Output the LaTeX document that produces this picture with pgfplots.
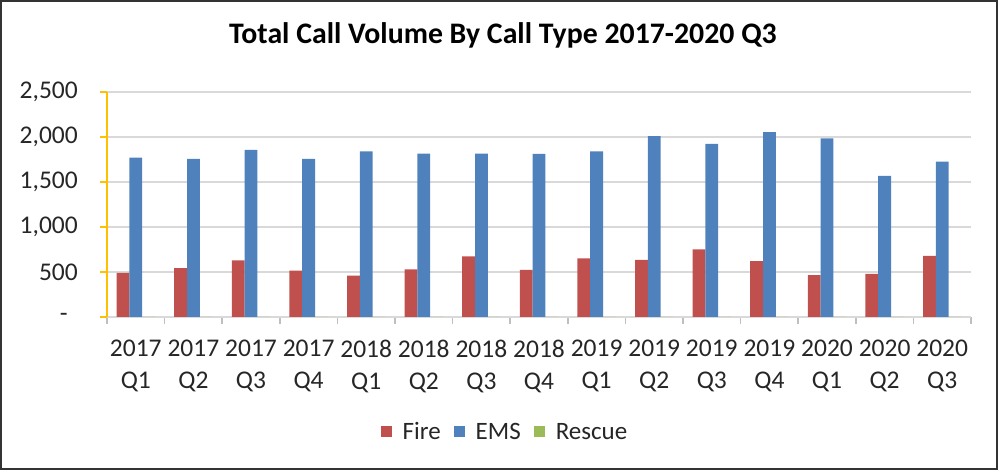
\documentclass[border=0pt]{standalone}
\usepackage{fontspec}
\setmainfont{Carlito}
\usepackage{pgfplots}
\pgfplotsset{compat=1.18}
\definecolor{fireC}{HTML}{C0504D}
\definecolor{emsC}{HTML}{4F81BD}
\definecolor{resC}{HTML}{9BBB59}
\definecolor{gridC}{HTML}{D9D9D9}
\definecolor{yaxC}{HTML}{FFC000}
\begin{document}
\begin{tikzpicture}
\useasboundingbox (0pt,0pt) rectangle (998pt,470pt);
\draw[line width=1.2pt, black!80] (1pt,1pt) rectangle (997pt,469pt);
\begin{axis}[
  at={(107pt,153pt)}, anchor=south west,
  scale only axis, width=864pt, height=225pt,
  ybar=0pt, bar width=12.8pt,
  xmin=-0.5, xmax=14.5, ymin=0, ymax=2500,
  axis x line*=bottom, axis y line*=left,
  x axis line style={-, draw=gridC, line width=1.8pt},
  y axis line style={-, draw=yaxC, line width=1.8pt},
  tick align=outside,
  xtick={0,...,14},
  xticklabels={2017\\Q1,2017\\Q2,2017\\Q3,2017\\Q4,2018\\Q1,2018\\Q2,2018\\Q3,2018\\Q4,2019\\Q1,2019\\Q2,2019\\Q3,2019\\Q4,2020\\Q1,2020\\Q2,2020\\Q3},
  major x tick style={draw=none},
  minor xtick={-0.5,0.5,...,14.5},
  minor tick length=7pt,
  minor x tick style={draw=black!25, line width=1.5pt},
  ytick={0,500,1000,1500,2000,2500},
  yticklabels={-\hspace*{10pt},500,{1,000},{1,500},{2,000},{2,500}},
  major tick length=7pt,
  y tick style={draw=yaxC, line width=1.5pt},
  ymajorgrids, major y grid style={draw=gridC, line width=1.5pt},
  tick label style={font=\fontsize{25.5}{32}\selectfont, text=black!85},
  xticklabel style={align=center, anchor=north, inner sep=0pt, yshift=-16pt},
  yticklabel style={anchor=east, inner sep=0pt, xshift=-22pt},
  title={Total Call Volume By Call Type 2017-2020 Q3},
  title style={at={(0.4583,1.1867)}, anchor=base, inner sep=0pt,
    font=\fontsize{29.8}{32}\selectfont\bfseries},
  legend style={at={(0.4606,-0.511)}, anchor=center, draw=none,
    font=\fontsize{25}{28}\selectfont, text=black!85,
    /tikz/every odd column/.append style={column sep=9pt},
    /tikz/every even column/.append style={column sep=11pt}},
  legend columns=-1,
  legend image code/.code={\fill[#1] (0pt,-5.5pt) rectangle (11pt,5.5pt);},
]
\addplot[fill=fireC, draw=none] coordinates {
(0,489) (1,544) (2,630) (3,515) (4,459) (5,530) (6,674) (7,524)
(8,650) (9,635) (10,750) (11,620) (12,464) (13,479) (14,680)};
\addplot[fill=emsC, draw=none] coordinates {
(0,1770) (1,1756) (2,1856) (3,1756) (4,1841) (5,1815) (6,1815) (7,1813)
(8,1839) (9,2010) (10,1924) (11,2054) (12,1984) (13,1568) (14,1727)};
\addplot[fill=resC, draw=none] coordinates {
(0,0) (1,0) (2,0) (3,0) (4,0) (5,0) (6,0) (7,0)
(8,0) (9,0) (10,0) (11,0) (12,0) (13,0) (14,0)};
\legend{Fire,EMS,Rescue}
\end{axis}
\end{tikzpicture}
\end{document}
